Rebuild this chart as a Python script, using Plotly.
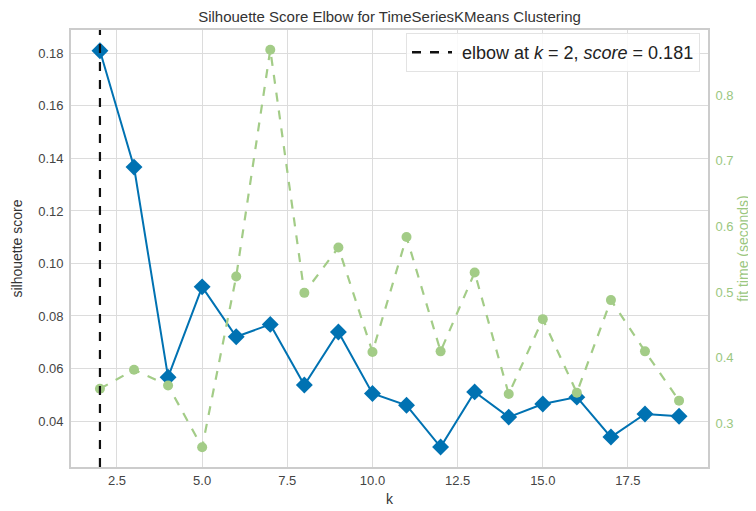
import plotly.graph_objects as go

k_values = list(range(2, 20))
silhouette_scores = [0.181, 0.1367, 0.0567, 0.0911, 0.0721, 0.0768, 0.0537, 0.0739, 0.0505,
                     0.0460, 0.0301, 0.0511, 0.0415, 0.0465, 0.0491, 0.0339, 0.0427, 0.0418]
fit_times = [0.353, 0.382, 0.358, 0.264, 0.524, 0.869, 0.499, 0.568, 0.409,
             0.584, 0.410, 0.530, 0.345, 0.459, 0.347, 0.488, 0.410, 0.335]
elbow_k = 2
elbow_score = 0.181

title_text = "Silhouette Score Elbow for TimeSeriesKMeans Clustering"
BLUE = "#0072B2"
GREEN = "#A3CC87"
GREEN_TXT = "#9BC77F"
FONT = "Liberation Sans, Arial, sans-serif"

# the page body has an 8px margin; size the figure so it fits the window
W, H = 748, 503
L, R, T, B = 63, 48, 22, 44

fig = go.Figure()

fig.add_trace(go.Scatter(
    x=k_values, y=fit_times, yaxis="y2", mode="lines+markers",
    line=dict(color=GREEN, width=2.2, dash="dash"),
    marker=dict(symbol="circle", size=10, color=GREEN),
    showlegend=False, hoverinfo="x+y"))

fig.add_trace(go.Scatter(
    x=k_values, y=silhouette_scores, mode="lines+markers",
    line=dict(color=BLUE, width=2),
    marker=dict(symbol="diamond", size=13, color=BLUE),
    showlegend=False))

# elbow vertical line (shape spanning the plot) + legend entry
fig.add_shape(type="line", xref="x", yref="paper", x0=elbow_k, x1=elbow_k, y0=0, y1=1,
              line=dict(color="#111111", width=2.2, dash="dash"), layer="above")
fig.add_trace(go.Scatter(
    x=[None], y=[None], mode="lines",
    line=dict(color="#111111", width=2.4, dash="dash"),
    name=f"&nbsp;elbow at <i>k</i> = {elbow_k}, <i>score</i> = {elbow_score:.3f}",
    showlegend=True))

axis_line = dict(showline=True, linecolor="#cccccc", linewidth=1.8, mirror=True)
pw = W - L - R
ph = H - T - B

fig.update_layout(
    width=W, height=H,
    margin=dict(l=L, r=R, t=T, b=B),
    paper_bgcolor="white", plot_bgcolor="white",
    font=dict(family=FONT, size=13, color="#444444"),
    title=dict(text=title_text, x=(L + pw / 2) / W, xanchor="center",
               y=1 - 9 / H, yanchor="middle",
               font=dict(family=FONT, size=15, color="#333333")),
    xaxis=dict(range=[1.15, 19.85], dtick=2.5, tick0=2.5, tickformat=".1f",
               showgrid=True, gridcolor="#dcdcdc", gridwidth=1.2, zeroline=False,
               ticks="", ticklen=0, automargin=False,
               title=dict(text="k", font=dict(size=14, color="#333333"), standoff=8),
               **axis_line),
    yaxis=dict(range=[0.0225, 0.1889], dtick=0.02, tick0=0.0, tickformat=".2f",
               showgrid=True, gridcolor="#dcdcdc", gridwidth=1.2, zeroline=False,
               ticks="", ticklen=0, automargin=False, ticklabelstandoff=3,
               title=dict(text="silhouette score", font=dict(size=14, color="#333333"), standoff=12),
               **axis_line),
    yaxis2=dict(range=[0.234, 0.899], dtick=0.1, tick0=0.0, tickformat=".1f",
                overlaying="y", side="right", showgrid=False, zeroline=False,
                automargin=False, ticklabelstandoff=3,
                tickfont=dict(color=GREEN_TXT, size=13),
                title=dict(text="fit time (seconds)", font=dict(size=14, color=GREEN_TXT), standoff=6),
                showline=True, linecolor="#cccccc", linewidth=1.8),
    legend=dict(x=1 - 8 / pw, y=1 - 3 / ph, xanchor="right", yanchor="top",
                bgcolor="rgba(255,255,255,0.85)", bordercolor="#e3e3e3", borderwidth=1,
                font=dict(family=FONT, size=18, color="#222222"),
                itemwidth=40),
)

fig.write_html("out.html")
